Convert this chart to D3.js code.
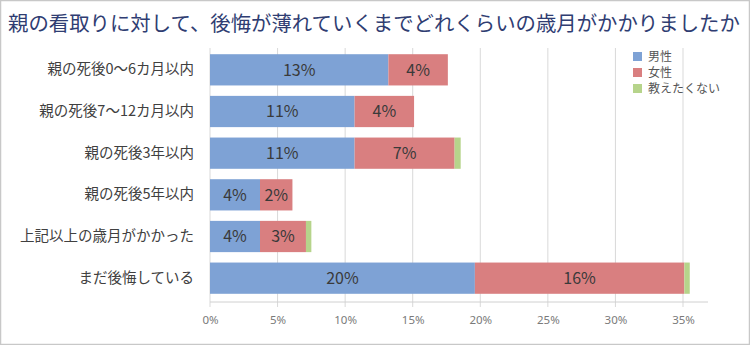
<!DOCTYPE html>
<html><head><meta charset="utf-8">
<script src="https://cdn.jsdelivr.net/npm/d3@7"></script>
<style>
html,body{margin:0;padding:0;background:#fff;}
svg{display:block;font-family:"Noto Sans CJK JP","Noto Sans",sans-serif;}
</style></head>
<body><svg id="c" width="750" height="345"></svg>
<script>
const categories = ["親の死後0〜6カ月以内","親の死後7〜12カ月以内","親の死後3年以内","親の死後5年以内","上記以上の歳月がかかった","まだ後悔している"];
const seriesNames = ["男性","女性","教えたくない"];
const male   = [13.2, 10.7, 10.7, 3.7, 3.7, 19.6];
const female = [4.4, 4.4, 7.4, 2.4, 3.4, 15.5];
const noAns  = [0, 0, 0.45, 0, 0.4, 0.4];
const xTicks = [0,5,10,15,20,25,30,35];
const colors = ["#7ea2d5","#d97f80","#b6d48b"];

const svg = d3.select("#c");
svg.append("rect").attr("x",0.5).attr("y",0.5).attr("width",749).attr("height",344)
  .attr("fill","#fff").attr("stroke","#c8c8c8").attr("stroke-width",1.5);

svg.append("text").attr("x",8).attr("y",31).attr("font-size",20.4).attr("fill","#2f3d72")
  .text("親の看取りに対して、後悔が薄れていくまでどれくらいの歳月がかかりましたか");

const x = d3.scaleLinear().domain([0,35]).range([210,683]);
const y = d3.scaleBand().domain(categories).range([49,299]).paddingInner(0.25).paddingOuter(0.125);

const g = svg.append("g");
g.selectAll("line.grid").data(xTicks).join("line")
  .attr("x1",d=>x(d)).attr("x2",d=>x(d)).attr("y1",48).attr("y2",307)
  .attr("stroke","#d9d9d9").attr("stroke-width",1);
g.append("line").attr("x1",x(0)).attr("x2",708).attr("y1",302).attr("y2",302)
  .attr("stroke","#d0d0d0");

const data = categories.map((c,i)=>({cat:c, vals:[male[i],female[i],noAns[i]]}));
data.forEach(d=>{
  let acc=0;
  d.vals.forEach((v,k)=>{
    if(v<=0) return;
    const x0=acc; acc+=v;
    g.append("rect").attr("x",x(x0)).attr("y",y(d.cat)).attr("width",x(acc)-x(x0))
      .attr("height",y.bandwidth()).attr("fill",colors[k]);
    if(k<2){
      g.append("text").attr("x",(x(x0)+x(acc))/2).attr("y",y(d.cat)+y.bandwidth()/2)
        .attr("dy","0.36em").attr("text-anchor","middle").attr("font-size",16)
        .attr("fill","#3a3a3a").text(Math.round(v)+"%");
    }
  });
});

const yAxis = d3.axisLeft(y).tickSize(0).tickPadding(0);
const ya = svg.append("g").attr("transform","translate(194,0)").call(yAxis);
ya.select(".domain").remove();
ya.selectAll("text").attr("font-size",14.5).attr("fill","#404040")
  .attr("font-family","\"Noto Sans CJK JP\",sans-serif");

const xAxis = d3.axisBottom(x).tickValues(xTicks).tickSize(0).tickPadding(0).tickFormat(d=>d+"%");
const xa = svg.append("g").attr("transform","translate(0,320)").call(xAxis);
xa.select(".domain").remove();
xa.selectAll("text").attr("font-size",11.5).attr("fill","#7a7a7a").attr("dy","0.32em")
  .attr("font-family","\"Noto Sans\",sans-serif");

const lg = svg.append("g");
seriesNames.forEach((n,i)=>{
  const yy = 56.5 + i*16;
  lg.append("rect").attr("x",633).attr("y",yy-4.5).attr("width",9).attr("height",9).attr("fill",colors[i]);
  lg.append("text").attr("x",648).attr("y",yy).attr("dy","0.36em").attr("font-size",12)
    .attr("fill","#555").text(n);
});
</script></body></html>
